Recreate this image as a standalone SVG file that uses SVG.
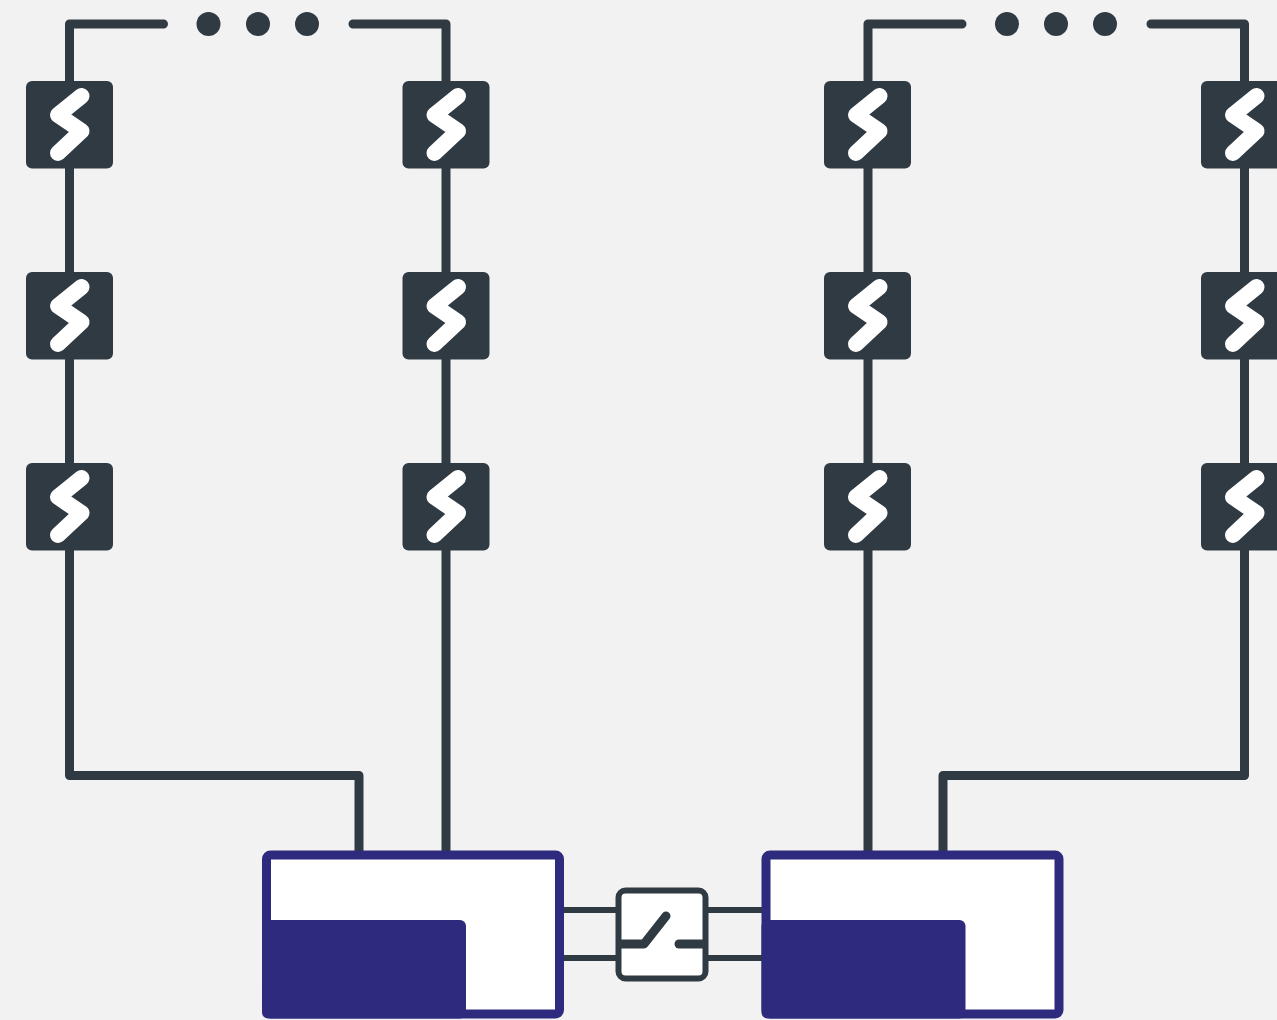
<svg xmlns="http://www.w3.org/2000/svg" xmlns:xlink="http://www.w3.org/1999/xlink" width="1277" height="1020" viewBox="0 0 1277 1020">
<style>
.w{fill:none;stroke:#303a43;stroke-width:9;stroke-linecap:round;stroke-linejoin:round}
.t{fill:none;stroke:#303a43;stroke-width:6}
.d{fill:#303a43}
.n{fill:#303a43}
.b{fill:none;stroke:#fff;stroke-width:16;stroke-linecap:round;stroke-linejoin:round}
.bx{fill:#fff;stroke:#2e2a7d;stroke-width:9}
.nv{fill:#2e2a7d}
</style>
<defs>
<g id="cell"><rect class="n" x="0" y="0" width="87" height="87.500" rx="6"/><path class="b" d="M55.500 15L32 34L55.500 50L32 72"/></g>
<g id="store"><rect class="bx" x="4.500" y="4.500" width="293" height="159" rx="4"/><rect class="nv" x="0" y="69.500" width="204" height="98.500" rx="6"/></g>
</defs>
<rect width="1277" height="1020" fill="#f2f2f2"/>
<g id="connectors">
<path class="w" d="M163.500 24H69.500V775.500H359V855"/>
<path class="w" d="M353 24H446V855"/>
<path class="w" d="M962 24H868V855"/>
<path class="w" d="M1151 24H1244.500V775.500H943V855"/>
<path class="t" d="M560 910H620M560 958H620M704 910H765M704 958H765"/>
</g>
<g id="dots-left"><circle class="d" cx="208.500" cy="24" r="12"/><circle class="d" cx="258" cy="24" r="12"/><circle class="d" cx="307" cy="24" r="12"/></g>
<g id="dots-right"><circle class="d" cx="1007" cy="24" r="12"/><circle class="d" cx="1056" cy="24" r="12"/><circle class="d" cx="1105" cy="24" r="12"/></g>
<g id="cell-1-1"><use xlink:href="#cell" href="#cell" x="26" y="81"/></g>
<g id="cell-1-2"><use xlink:href="#cell" href="#cell" x="26" y="272"/></g>
<g id="cell-1-3"><use xlink:href="#cell" href="#cell" x="26" y="463"/></g>
<g id="cell-2-1"><use xlink:href="#cell" href="#cell" x="402.500" y="81"/></g>
<g id="cell-2-2"><use xlink:href="#cell" href="#cell" x="402.500" y="272"/></g>
<g id="cell-2-3"><use xlink:href="#cell" href="#cell" x="402.500" y="463"/></g>
<g id="cell-3-1"><use xlink:href="#cell" href="#cell" x="824" y="81"/></g>
<g id="cell-3-2"><use xlink:href="#cell" href="#cell" x="824" y="272"/></g>
<g id="cell-3-3"><use xlink:href="#cell" href="#cell" x="824" y="463"/></g>
<g id="cell-4-1"><use xlink:href="#cell" href="#cell" x="1201" y="81"/></g>
<g id="cell-4-2"><use xlink:href="#cell" href="#cell" x="1201" y="272"/></g>
<g id="cell-4-3"><use xlink:href="#cell" href="#cell" x="1201" y="463"/></g>
<g id="store-left"><use xlink:href="#store" href="#store" x="262" y="850.500"/></g>
<g id="store-right"><use xlink:href="#store" href="#store" x="761.500" y="850.500"/></g>
<g id="switch">
<rect x="618.500" y="890.500" width="87" height="88" rx="7" fill="#fff" stroke="#303a43" stroke-width="6"/>
<path class="w" d="M621 944H644L666 916"/>
<path class="w" d="M679 944H703"/>
</g>
</svg>
